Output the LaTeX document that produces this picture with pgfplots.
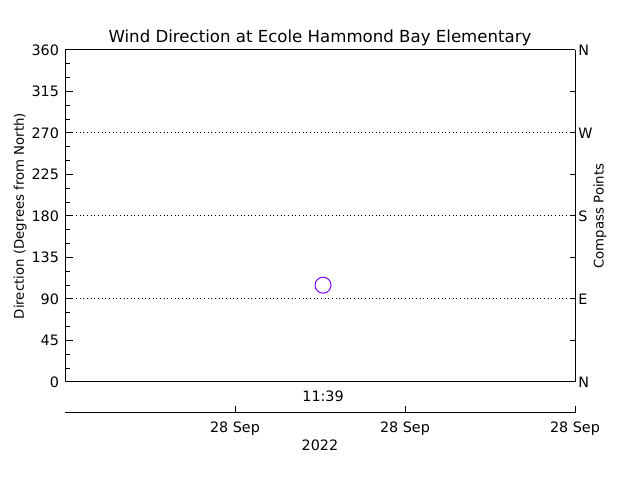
\documentclass[border=0pt]{standalone}
\usepackage{fontspec}
\setmainfont{DejaVu Sans}
\usepackage{pgfplots}
\pgfplotsset{compat=1.18}
\definecolor{markpurple}{RGB}{128,0,255}
\begin{document}
\fontsize{10}{12}\selectfont
\begin{tikzpicture}
\path[use as bounding box] (0,0) rectangle (480bp,360bp);
% main axis
\begin{axis}[
  at={(48.75bp,73.5bp)}, anchor=south west,
  scale only axis, width=382.5bp, height=249bp,
  xmin=0, xmax=3, ymin=0, ymax=360,
  axis y line*=left, axis x line*=box,
  axis line style={line width=0.75bp, -},
  every tick/.style={black, line width=0.75bp},
  /pgf/number format/assume math mode=true,
  ytick={0,45,...,360}, minor y tick num=2,
  major tick length=6bp, minor tick length=3.5bp,
  tick align=inside,
  tick label style={font=\fontsize{10.8}{12}\selectfont},
  xtick={1.518}, xticklabels={11:39},
  x tick style={draw=none},
  xticklabel style={yshift=-3bp},
  yticklabel style={xshift=-1bp},
  title={Wind Direction at Ecole Hammond Bay Elementary},
  title style={at={(axis description cs:0.5,1.042)}, anchor=center, yshift=-7.5bp, font=\fontsize{12.5}{14}\selectfont},
  ylabel={Direction (Degrees from North)},
  ylabel style={at={(axis description cs:-0.088,0.5)}, anchor=center, rotate=0},
  clip=false,
]
\addplot[black, dotted, line width=0.75bp, forget plot] coordinates {(0,90) (3,90)};
\addplot[black, dotted, line width=0.75bp, forget plot] coordinates {(0,180) (3,180)};
\addplot[black, dotted, line width=0.75bp, forget plot] coordinates {(0,270) (3,270)};
\addplot[only marks, mark=o, mark size=6bp, markpurple, mark options={line width=0.75bp}] coordinates {(1.518,105)};
\draw[line width=0.75bp] (rel axis cs:0,0) -- (rel axis cs:1,0);
\draw[line width=0.75bp] (rel axis cs:0,1) -- (rel axis cs:1,1);
\end{axis}
% right compass axis
\begin{axis}[
  at={(48.75bp,73.5bp)}, anchor=south west,
  scale only axis, width=382.5bp, height=249bp,
  xmin=0, xmax=3, ymin=0, ymax=360,
  axis y line*=right, axis x line=none,
  axis line style={line width=0.75bp, -},
  every tick/.style={black, line width=0.75bp},
  ytick={0,45,...,360},
  yticklabels={N,,E,,S,,W,,N},
  tick label style={font=\fontsize{10.8}{12}\selectfont},
  major tick length=4bp, tick align=inside,
  yticklabel style={xshift=-1bp},
  ylabel={Compass Points},
  ylabel style={at={(axis description cs:1.049,0.5)}, anchor=center, rotate=0},
]
\end{axis}
% date axis
\begin{axis}[
  at={(48.75bp,50.25bp)}, anchor=south west,
  scale only axis, width=382.5bp, height=10bp,
  xmin=0, xmax=3, ymin=0, ymax=1,
  axis x line*=bottom, hide y axis,
  axis line style={line width=0.75bp, -},
  every tick/.style={black, line width=0.75bp},
  xtick={1,2,3}, xticklabels={28 Sep,28 Sep,28 Sep},
  tick label style={font=\fontsize{10.8}{12}\selectfont},
  major tick length=5bp, tick align=inside,
  xticklabel style={yshift=-3bp},
  xlabel={2022},
  xlabel style={at={(axis description cs:0.5,0)}, anchor=center, yshift=-24bp, font=\fontsize{10.8}{12}\selectfont},
]
\end{axis}
\end{tikzpicture}
\end{document}
